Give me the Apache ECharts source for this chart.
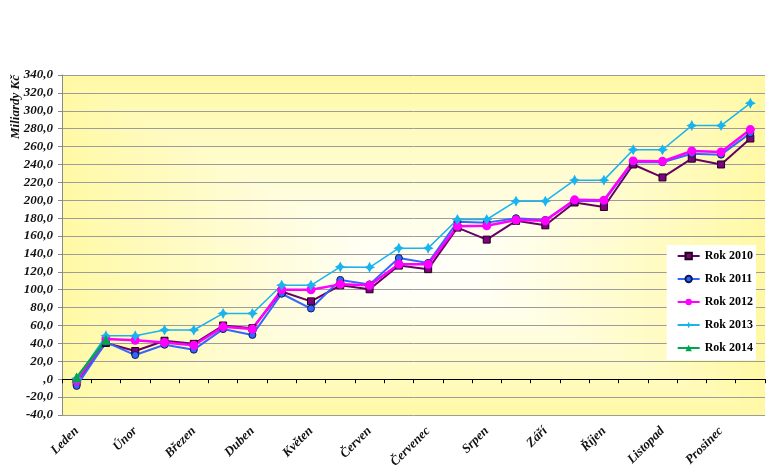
<!DOCTYPE html>
<html>
<head>
<meta charset="utf-8">
<script src="https://cdn.jsdelivr.net/npm/echarts/dist/echarts.min.js"></script>
<style>
html,body{margin:0;padding:0;background:#ffffff;}
#chart{width:770px;height:475px;}
</style>
</head>
<body>
<div id="chart"></div>
<script>
// Month labels (two readings per month)
const months = ['Leden','Únor','Březen','Duben','Květen','Červen','Červenec','Srpen','Září','Říjen','Listopad','Prosinec'];
const categories = months.flatMap(m => [m, '']);

// Series values (Miliardy Kč)
const rok2010 = [-3, 40.5, 31.5, 43, 39.5, 60, 57, 98, 87, 105, 100.5, 127, 123, 169.5, 156, 177, 172, 197.5, 192.5, 240, 225.5, 246.5, 240, 269];
const rok2011 = [-7.5, 41.5, 27, 38.5, 33, 56, 49.5, 95.5, 79, 111, 106, 135.5, 130, 176, 175, 180, 178, 199.5, 199, 242.5, 242.5, 252, 251, 275];
const rok2012 = [-2, 45, 43.5, 41, 38, 58.5, 56, 100, 100, 106, 105, 128.5, 128.5, 171, 171.5, 178, 177, 200.5, 200, 244, 243.5, 255, 254, 279];
const rok2013 = [1, 48.5, 48.5, 55, 55, 73.5, 73.5, 105, 105, 125.5, 125, 146.5, 146.5, 178.5, 178.5, 199, 199, 222.5, 222.5, 256.5, 256.5, 283.5, 283.5, 308.5];
const rok2014 = [2, 44];

// Value axis
const yMin = -40, yMax = 340, yStep = 20;

const serif = '"Liberation Serif","Times New Roman",serif';
const star = 'path://M0,-10 L3.5,-3.5 L10,0 L3.5,3.5 L0,10 L-3.5,3.5 L-10,0 L-3.5,-3.5 Z';

function fmt(v){
  if (v === 0) return ',0';
  return v.toFixed(1).replace('.', ',');
}

function line(name, data, color, width, symbol, size, fill, border){
  return {
    name: name, type: 'line', data: data,
    xAxisIndex: 0, yAxisIndex: 0,
    symbol: symbol, symbolSize: size, showAllSymbol: true,
    lineStyle: {color: color, width: width},
    itemStyle: {color: fill, borderColor: border || fill, borderWidth: border ? 1 : 0},
    emphasis: {disabled: true},
    animation: false
  };
}

const chart = echarts.init(document.getElementById('chart'), null, {renderer: 'canvas'});

const option = {
  animation: false,
  backgroundColor: '#ffffff',
  grid: {left: 62, right: 5, top: 75, bottom: 60, show: true, borderWidth: 0,
         backgroundColor: '#fffbd0', outerBoundsMode: 'none', containLabel: false},
  graphic: [{
    type: 'text', x: 16, y: 107, rotation: Math.PI / 2,
    style: {text: 'Miliardy Kč', font: 'italic bold 13px ' + serif, fill: '#111',
            align: 'center', verticalAlign: 'middle', textAlign: 'center', textVerticalAlign: 'middle'}
  }],
  legend: {
    orient: 'vertical', right: 14, top: 245,
    backgroundColor: '#ffffff', borderWidth: 0,
    padding: [4, 3, 5, 10],
    itemWidth: 22, itemHeight: 8, itemGap: 9,
    textStyle: {fontFamily: serif, fontWeight: 'bold', fontSize: 12, color: '#000', lineHeight: 14},
    data: ['Rok 2010', 'Rok 2011', 'Rok 2012', 'Rok 2013', 'Rok 2014']
  },
  xAxis: [{
    type: 'category', data: categories, position: 'bottom', boundaryGap: true,
    axisLine: {show: false, onZero: false}, axisTick: {show: false},
    axisLabel: {interval: 0, rotate: 45, margin: 14, fontFamily: serif, fontStyle: 'italic',
                fontWeight: 'bold', fontSize: 13, color: '#111'},
    splitLine: {show: false}
  }, {
    type: 'category', data: categories, position: 'top', boundaryGap: true,
    axisLine: {show: true, onZero: true, lineStyle: {color: '#000', width: 1}},
    axisTick: {show: true, inside: true, length: 4, interval: 0, lineStyle: {color: '#000'}},
    axisLabel: {show: false}, splitLine: {show: false}
  }],
  yAxis: {
    type: 'value', min: yMin, max: yMax, interval: yStep,
    axisLine: {show: true, lineStyle: {color: '#8a8a8a'}},
    axisTick: {show: true, length: 4, lineStyle: {color: '#8a8a8a'}},
    axisLabel: {formatter: fmt, margin: 9, fontFamily: serif, fontStyle: 'italic', fontWeight: 'bold',
                fontSize: 13, color: '#111'},
    splitLine: {show: true, lineStyle: {color: '#9c9c9c', width: 1}}
  },
  series: [
    line('Rok 2010', rok2010, '#660066', 2, 'rect', 7, '#800080', '#1a001a'),
    line('Rok 2011', rok2011, '#3366ff', 2, 'circle', 7, '#3366ff', '#0a1a55'),
    line('Rok 2012', rok2012, '#ff00ff', 2.5, 'circle', 9, '#ff00ff', null),
    line('Rok 2013', rok2013, '#19b4f0', 1.5, star, 11, '#19b4f0', null),
    line('Rok 2014', rok2014, '#00a550', 2.5, 'triangle', 10, '#00a550', null)
  ]
};
chart.setOption(option);

// Rectangular "from centre" gradient fill of the plot area
try {
  const gm = chart.getModel().getComponent('grid', 0);
  const r = gm.coordinateSystem.getRect();
  const W = chart.getWidth(), H = chart.getHeight();
  const cv = document.createElement('canvas');
  cv.width = W; cv.height = H;
  const ctx = cv.getContext('2d');
  const img = ctx.createImageData(W, H);
  const cx = r.x + r.width * 0.52, cy = r.y + r.height * 0.60;
  const x0 = Math.floor(r.x), x1 = Math.ceil(r.x + r.width), y0 = Math.floor(r.y), y1 = Math.ceil(r.y + r.height);
  const white = [255, 255, 248], yel = [255, 249, 165];
  for (let y = y0; y < y1; y++) {
    const dy = y < cy ? (cy - y) / (cy - r.y) : (y - cy) / (r.y + r.height - cy);
    for (let x = x0; x < x1; x++) {
      const dx = x < cx ? (cx - x) / (cx - r.x) : (x - cx) / (r.x + r.width - cx);
      const t = Math.max(dx, dy);
      let s = (t - 0.12) / 0.88; s = Math.max(0, Math.min(1, s));
      const i = (y * W + x) * 4;
      img.data[i]   = white[0] + (yel[0] - white[0]) * s;
      img.data[i+1] = white[1] + (yel[1] - white[1]) * s;
      img.data[i+2] = white[2] + (yel[2] - white[2]) * s;
      img.data[i+3] = 255;
    }
  }
  ctx.putImageData(img, 0, 0);
  chart.setOption({grid: {backgroundColor: {image: cv, repeat: 'no-repeat'}}});
} catch (e) {}
</script>
</body>
</html>
